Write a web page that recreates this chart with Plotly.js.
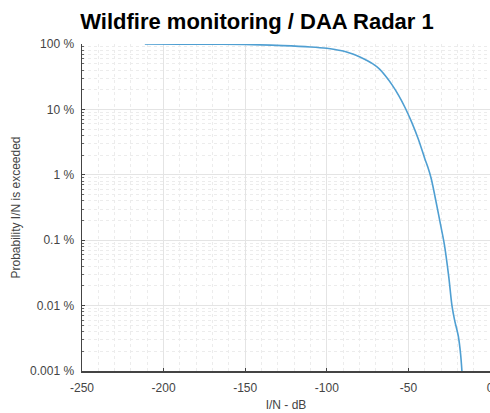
<!DOCTYPE html>
<html>
<head>
<meta charset="utf-8">
<script src="https://cdn.plot.ly/plotly-3.0.1.min.js"></script>
<style>html,body{margin:0;padding:0;background:#fff;}#chart{width:490px;height:413px;}</style>
</head>
<body>
<div id="chart"></div>
<script>
// I/N in dB and probability (%) that I/N is exceeded
const inDb = [-211.5, -190, -170, -150, -127, -110, -100, -95, -90, -86, -80, -76, -72, -68, -64, -60, -56, -52, -48, -44, -40, -38, -36, -33, -30, -28, -25.3, -23.3, -21.7, -19.4, -18, -17.2];
const probPct = [99.8, 99.6, 99.2, 98.5, 94.4, 90, 85.9, 82.4, 78.2, 72.8, 64, 57, 50, 42, 32.4, 23.7, 16.4, 10.6, 6.4, 3.56, 1.78, 1.29, 0.87, 0.38, 0.158, 0.087, 0.028, 0.01, 0.006, 0.0034, 0.0018, 0.001];
const yTickVals = [0.001, 0.01, 0.1, 1, 10, 100];
const yTickText = ['0.001 %', '0.01 %', '0.1 %', '1 %', '10 %', '100 %'];
const xTickVals = [-250, -200, -150, -100, -50, 0];

const trace = {
  x: inDb, y: probPct, type: 'scatter', mode: 'lines',
  line: {color: '#4f9fd2', width: 1.6, shape: 'spline', smoothing: 0.9}, showlegend: false, hoverinfo: 'skip'
};

const layout = {
  width: 490, height: 413,
  margin: {l: 82, r: 0, t: 44, b: 42, pad: 0},
  paper_bgcolor: '#fff', plot_bgcolor: '#fff',
  font: {family: 'Liberation Sans, Arial, sans-serif', color: '#444', size: 12},
  title: {
    text: '<b>Wildfire monitoring / DAA Radar 1</b>',
    font: {family: 'Liberation Sans, Arial, sans-serif', size: 22, color: '#000'},
    x: 0.5245, xanchor: 'center', xref: 'container', y: 0.949, yanchor: 'middle', yref: 'container'
  },
  xaxis: {
    range: [-250, 0], tickmode: 'array', tickvals: xTickVals, ticktext: xTickVals.map(String),
    ticks: 'inside', ticklen: 3, tickcolor: '#444', tickwidth: 1, ticklabeloverflow: 'allow',
    showline: true, linecolor: '#444', linewidth: 1.5, mirror: false,
    showgrid: true, gridcolor: '#e4e4e4', gridwidth: 1, zeroline: false,
    minor: {dtick: 10, showgrid: true, gridcolor: '#ececec', griddash: 'dot', ticks: ''},
    tickfont: {size: 12, color: '#444'}, ticklabelstandoff: 5,
    title: {text: 'I/N - dB', font: {size: 12, color: '#444'}, standoff: 6}
  },
  yaxis: {
    type: 'log', range: [-3, 2], tickmode: 'array', tickvals: yTickVals, ticktext: yTickText,
    ticks: 'inside', ticklen: 3, tickcolor: '#444', tickwidth: 1,
    showline: true, linecolor: '#444', linewidth: 1.5, mirror: false,
    showgrid: true, gridcolor: '#e4e4e4', gridwidth: 1, zeroline: false,
    minor: {dtick: 'D1', showgrid: true, gridcolor: '#ececec', griddash: 'dot', ticks: 'inside', ticklen: 2, tickcolor: '#666'},
    tickfont: {size: 12, color: '#444'}, ticklabelstandoff: 4,
    title: {text: 'Probability I/N is exceeded', font: {size: 12, color: '#444'}, standoff: 7}
  }
};

Plotly.newPlot('chart', [trace], layout, {staticPlot: true, displayModeBar: false});
</script>
</body>
</html>
